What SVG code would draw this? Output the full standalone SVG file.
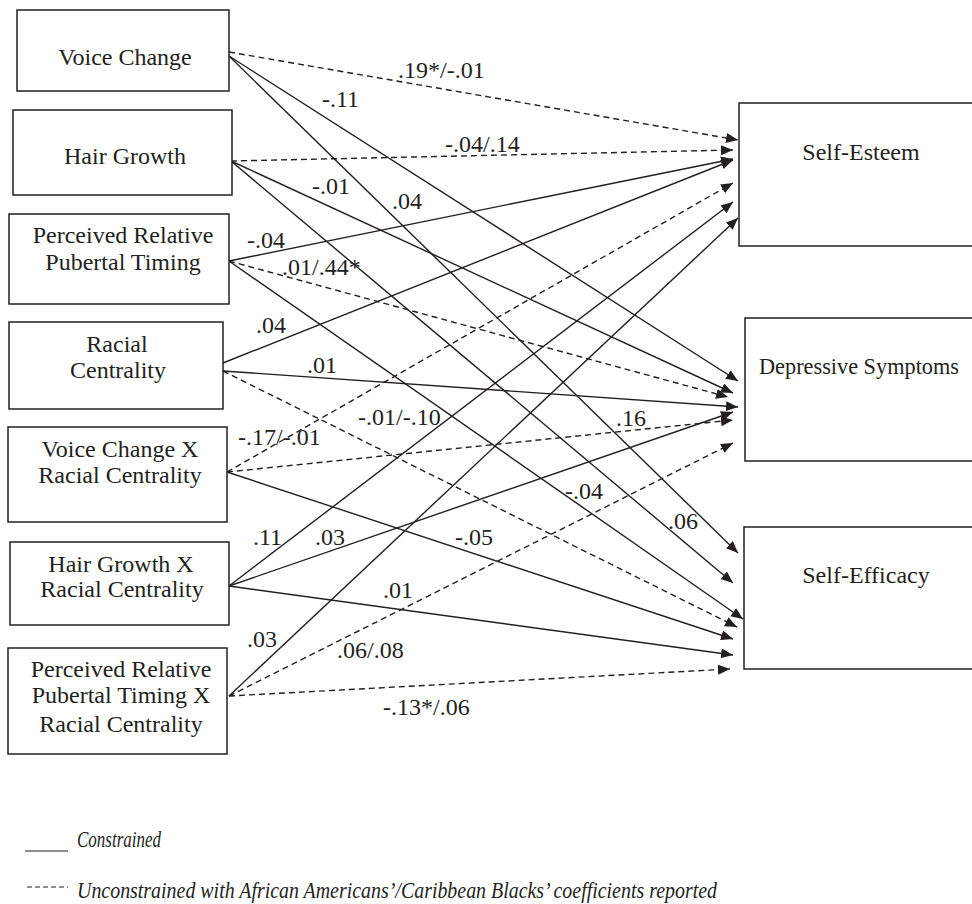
<svg xmlns="http://www.w3.org/2000/svg" width="972" height="904" viewBox="0 0 972 904">
<style>
.box{fill:#fff;stroke:#231f20;stroke-width:1.5}
.t{font-family:"Liberation Serif","Times New Roman",serif;font-size:24px;fill:#231f20}
.m{text-anchor:middle}
.e{fill:none;stroke:#231f20;stroke-width:1.4;marker-end:url(#ah)}
.d{stroke-dasharray:6 4}
.lg{font-family:"Liberation Serif","Times New Roman",serif;font-size:24px;font-style:italic;fill:#231f20}
</style>
<defs>
<marker id="ah" markerWidth="14" markerHeight="12" refX="12" refY="5" orient="auto" markerUnits="userSpaceOnUse">
<path d="M0,0 L12,5 L0,10 z" fill="#231f20"/>
</marker>
</defs>
<rect width="972" height="904" fill="#fff"/>
<g id="connectors">
<path class="e d" d="M229,52 L738,140"/>
<path class="e" d="M229,56 L738,381"/>
<path class="e" d="M229,56 L738,553"/>
<path class="e d" d="M231,161 L733,150"/>
<path class="e" d="M231,161 L733,393"/>
<path class="e" d="M231,161 L733,583"/>
<path class="e" d="M229,261 L733,159"/>
<path class="e d" d="M229,261 L728,397"/>
<path class="e" d="M229,261 L743,619"/>
<path class="e" d="M223,363 L733,160"/>
<path class="e" d="M223,371 L738,407"/>
<path class="e d" d="M223,371 L737,627"/>
<path class="e d" d="M227,472 L733,183"/>
<path class="e d" d="M227,472 L733,420"/>
<path class="e" d="M227,472 L733,639"/>
<path class="e" d="M229,586 L733,202"/>
<path class="e" d="M229,586 L733,412"/>
<path class="e" d="M229,586 L733,655"/>
<path class="e" d="M229,696 L738,218"/>
<path class="e d" d="M229,696 L733,443"/>
<path class="e d" d="M229,696 L730,669"/>
</g>
<g id="edge-labels" class="t">
<text x="398" y="78">.19*/-.01</text>
<text x="322" y="107">-.11</text>
<text x="445" y="152">-.04/.14</text>
<text x="312" y="194">-.01</text>
<text x="392" y="209">.04</text>
<text x="247" y="248">-.04</text>
<text x="282" y="275">.01/.44*</text>
<text x="256" y="333">.04</text>
<text x="307" y="373">.01</text>
<text x="358" y="425">-.01/-.10</text>
<text x="238" y="445">-.17/-.01</text>
<text x="616" y="426">.16</text>
<text x="565" y="499">-.04</text>
<text x="668" y="529">.06</text>
<text x="253" y="545">.11</text>
<text x="315" y="545">.03</text>
<text x="455" y="545">-.05</text>
<text x="383" y="598">.01</text>
<text x="247" y="647">.03</text>
<text x="337" y="658">.06/.08</text>
<text x="383" y="715">-.13*/.06</text>
</g>
<g id="n-voice">
<rect class="box" x="17" y="10" width="212" height="81"/>
<text class="t m" x="125" y="65">Voice Change</text>
</g>
<g id="n-hair">
<rect class="box" x="13" y="110" width="219" height="85"/>
<text class="t m" x="125" y="164">Hair Growth</text>
</g>
<g id="n-prpt">
<rect class="box" x="9" y="214" width="220" height="90"/>
<text class="t m" x="123" y="243">Perceived Relative</text>
<text class="t m" x="123" y="270">Pubertal Timing</text>
</g>
<g id="n-rc">
<rect class="box" x="9" y="322" width="214" height="87"/>
<text class="t m" x="117" y="352">Racial</text>
<text class="t m" x="118" y="378">Centrality</text>
</g>
<g id="n-vcxrc">
<rect class="box" x="8" y="427" width="219" height="95"/>
<text class="t m" x="120" y="457">Voice Change X</text>
<text class="t m" x="120" y="483">Racial Centrality</text>
</g>
<g id="n-hgxrc">
<rect class="box" x="10" y="542" width="219" height="83"/>
<text class="t m" x="121" y="572">Hair Growth X</text>
<text class="t m" x="122" y="597">Racial Centrality</text>
</g>
<g id="n-prptxrc">
<rect class="box" x="8" y="648" width="219" height="106"/>
<text class="t m" x="121" y="677">Perceived Relative</text>
<text class="t m" x="121" y="703">Pubertal Timing X</text>
<text class="t m" x="121" y="732">Racial Centrality</text>
</g>
<g id="n-se">
<rect class="box" x="739" y="103" width="260" height="143"/>
<text class="t m" x="861" y="160">Self-Esteem</text>
</g>
<g id="n-ds">
<rect class="box" x="745" y="318" width="260" height="143"/>
<text class="t" x="759" y="374" textLength="200" lengthAdjust="spacingAndGlyphs">Depressive Symptoms</text>
</g>
<g id="n-sef">
<rect class="box" x="744" y="527" width="260" height="142"/>
<text class="t m" x="866" y="583">Self-Efficacy</text>
</g>
<g id="legend">
<line x1="25" y1="851" x2="68" y2="851" stroke="#231f20" stroke-width="1.2"/>
<text class="lg" x="77" y="847" textLength="84" lengthAdjust="spacingAndGlyphs">Constrained</text>
<line x1="27" y1="887" x2="68" y2="887" stroke="#231f20" stroke-width="1.2" stroke-dasharray="5 3"/>
<text class="lg" x="77" y="898" textLength="640" lengthAdjust="spacingAndGlyphs">Unconstrained with African Americans’/Caribbean Blacks’ coefficients reported</text>
</g>
</svg>
